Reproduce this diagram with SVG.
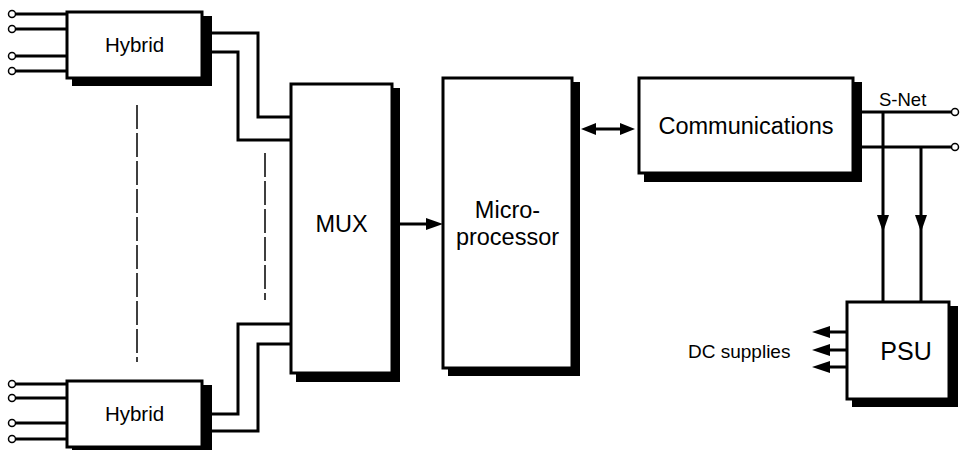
<svg xmlns="http://www.w3.org/2000/svg" width="966" height="450" viewBox="0 0 966 450">
<style>
.box{fill:#fff;stroke:#000;stroke-width:3}
.sh{fill:#000}
.w{fill:none;stroke:#000;stroke-width:3}
.d{fill:none;stroke:#000;stroke-width:1.5;stroke-dasharray:24 4}
.c{fill:#fff;stroke:#000;stroke-width:1.5}
.h{fill:#000}
text{font-family:"Liberation Sans",Arial,sans-serif;fill:#000}
.lb{font-size:23.5px;text-anchor:middle}
</style>
<rect width="966" height="450" fill="#fff"/>
<g id="connectors">
<path class="w" d="M16 14H67M16 29H67M16 56H67M16 71H67"/>
<path class="w" d="M16 384H67M16 398H67M16 423H67M16 439H67"/>
<circle class="c" cx="12" cy="14" r="3.5"/>
<circle class="c" cx="12" cy="29" r="3.5"/>
<circle class="c" cx="12" cy="56" r="3.5"/>
<circle class="c" cx="12" cy="71" r="3.5"/>
<circle class="c" cx="12" cy="384" r="3.5"/>
<circle class="c" cx="12" cy="398" r="3.5"/>
<circle class="c" cx="12" cy="423" r="3.5"/>
<circle class="c" cx="12" cy="439" r="3.5"/>
<path class="w" d="M205 33H258V117H291"/>
<path class="w" d="M205 52H238V140H291"/>
<path class="w" d="M205 414H238V324H291"/>
<path class="w" d="M205 431H258V344H291"/>
<path class="d" d="M137 105V362"/>
<path class="d" d="M265 153V300"/>
<path class="w" d="M400 224H428"/>
<polygon class="h" points="443,224 426,218 426,230"/>
<path class="w" d="M594 129H624"/>
<polygon class="h" points="581,129 596,123 596,135"/>
<polygon class="h" points="635,129 620,123 620,135"/>
<path class="w" d="M860 112H952M860 147H952"/>
<circle class="c" cx="955" cy="112" r="3.5"/>
<circle class="c" cx="955" cy="147" r="3.5"/>
<path class="w" d="M883 112V302M921 147V302"/>
<polygon class="h" points="883,232 877,215 889,215"/>
<polygon class="h" points="921,232 915,215 927,215"/>
<path class="w" d="M847 332H828M847 350H828M847 367H828"/>
<polygon class="h" points="812,332 830,326 830,338"/>
<polygon class="h" points="812,350 830,344 830,356"/>
<polygon class="h" points="812,367 830,361 830,373"/>
</g>
<g id="hybrid-top">
<rect class="sh" x="72" y="16" width="140" height="70"/>
<rect class="box" x="67" y="12" width="135" height="66"/>
<text class="lb" x="134.5" y="52" style="font-size:20.5px">Hybrid</text>
</g>
<g id="hybrid-bottom">
<rect class="sh" x="72" y="385" width="140" height="70"/>
<rect class="box" x="67" y="381" width="135" height="66"/>
<text class="lb" x="134.5" y="421" style="font-size:20.5px">Hybrid</text>
</g>
<g id="mux">
<rect class="sh" x="296" y="88" width="104" height="294"/>
<rect class="box" x="291" y="84" width="101" height="289"/>
<text class="lb" x="341.5" y="232">MUX</text>
</g>
<g id="microprocessor">
<rect class="sh" x="448" y="82" width="132" height="294"/>
<rect class="box" x="443" y="78" width="129" height="290"/>
<text class="lb" x="507.5" y="218">Micro-</text>
<text class="lb" x="507.5" y="245">processor</text>
</g>
<g id="communications">
<rect class="sh" x="644" y="82" width="218" height="100"/>
<rect class="box" x="639" y="78" width="214" height="95"/>
<text class="lb" x="746" y="134">Communications</text>
</g>
<g id="psu">
<rect class="sh" x="852" y="306" width="106" height="101"/>
<rect class="box" x="847" y="302" width="102" height="97"/>
<text class="lb" x="906" y="360" style="font-size:25px">PSU</text>
</g>
<g id="labels">
<text x="879" y="106" style="font-size:18.5px">S-Net</text>
<text x="688" y="358" style="font-size:19px">DC supplies</text>
</g>
</svg>
